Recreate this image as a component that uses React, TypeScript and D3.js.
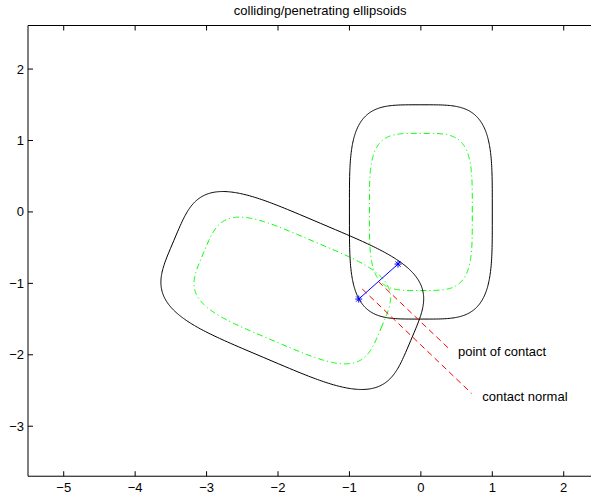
import React from "react";
import * as d3 from "d3";

// ---- data ----
const xTicks = [-5, -4, -3, -2, -1, 0, 1, 2];
const yTicks = [-3, -2, -1, 0, 1, 2];
const xLim = [-5.5, 2.68];
const yLim = [-3.7, 2.61];

// superellipses: centre x, centre y, half-width, half-height, rotation (deg), exponent
const outerCx = [0, -1.8];
const outerCy = [0, -1.1];
const outerA = [1.0, 1.8];
const outerB = [1.5, 1.02];
const innerA = [0.72, 1.35];
const innerB = [1.1, 0.75];
const rotDeg = [0, -23];
const exponent = [4, 4];

// contact points (blue *)
const contactX = [-0.32, -0.87];
const contactY = [-0.73, -1.22];

// red dashed normals: [x0, y0, x1, y1]
const normalLines = [
  [-0.595, -0.975, 0.41, -1.93],
  [-0.82, -1.08, 0.71, -2.54],
];
const labelTexts = ["point of contact", "contact normal"];
const labelX = [0.52, 0.86];
const labelY = [-2.02, -2.65];

const title = "colliding/penetrating ellipsoids";

const W = 591;
const H = 496;
const left = 28;
const top = 25.5;
const unit = 71.43;
const right = left + (xLim[1] - xLim[0]) * unit;
const bottom = top + (yLim[1] - yLim[0]) * unit;

const font = "'Liberation Sans', Arial, Helvetica, sans-serif";

function superellipse(cx: number, cy: number, a: number, b: number, deg: number, n: number): [number, number][] {
  const phi = (deg * Math.PI) / 180;
  const pts: [number, number][] = [];
  const N = 400;
  for (let i = 0; i <= N; i++) {
    const t = (i / N) * 2 * Math.PI;
    const c = Math.cos(t), s = Math.sin(t);
    const bx = a * Math.sign(c) * Math.pow(Math.abs(c), 2 / n);
    const by = b * Math.sign(s) * Math.pow(Math.abs(s), 2 / n);
    pts.push([cx + bx * Math.cos(phi) - by * Math.sin(phi), cy + bx * Math.sin(phi) + by * Math.cos(phi)]);
  }
  return pts;
}

export default function App() {
  const x = d3.scaleLinear().domain(xLim).range([left, right]);
  const y = d3.scaleLinear().domain(yLim).range([bottom, top]);
  const line = d3.line<[number, number]>().x((d) => x(d[0])).y((d) => y(d[1]));
  const tick = 5;

  return (
    <svg width={W} height={H} style={{ position: "absolute", left: 0, top: 0, background: "#fff" }}>
      <defs>
        <clipPath id="plot">
          <rect x={left} y={top} width={right - left} height={bottom - top} />
        </clipPath>
      </defs>
      <rect x={0} y={0} width={W} height={H} fill="#fff" />
      <g clipPath="url(#plot)">
        {outerCx.map((_, i) => (
          <path
            key={"in" + i}
            d={line(superellipse(outerCx[i], outerCy[i], innerA[i], innerB[i], rotDeg[i], exponent[i])) || ""}
            fill="none"
            stroke="#00ff00"
            strokeWidth={1}
            strokeDasharray="6,3,1.2,3"
          />
        ))}
        {outerCx.map((_, i) => (
          <path
            key={"out" + i}
            d={line(superellipse(outerCx[i], outerCy[i], outerA[i], outerB[i], rotDeg[i], exponent[i])) || ""}
            fill="none"
            stroke="#000"
            strokeWidth={1}
          />
        ))}
        {normalLines.map((l, i) => (
          <line
            key={"n" + i}
            x1={x(l[0])}
            y1={y(l[1])}
            x2={x(l[2])}
            y2={y(l[3])}
            stroke="#ff0000"
            strokeWidth={1}
            strokeDasharray="6,4"
          />
        ))}
        <line
          x1={x(contactX[0])}
          y1={y(contactY[0])}
          x2={x(contactX[1])}
          y2={y(contactY[1])}
          stroke="#0000ff"
          strokeWidth={1}
        />
        {contactX.map((cx, i) => {
          const px = x(cx), py = y(contactY[i]);
          const r = 3.5, d = 2.6;
          return (
            <g key={"m" + i} stroke="#0000ff" strokeWidth={1}>
              <line x1={px - r} y1={py} x2={px + r} y2={py} />
              <line x1={px} y1={py - r} x2={px} y2={py + r} />
              <line x1={px - d} y1={py - d} x2={px + d} y2={py + d} />
              <line x1={px - d} y1={py + d} x2={px + d} y2={py - d} />
            </g>
          );
        })}
        {labelTexts.map((t, i) => (
          <text key={"l" + i} x={x(labelX[i])} y={y(labelY[i])} fontFamily={font} fontSize={13} fill="#000">
            {t}
          </text>
        ))}
      </g>
      {/* axes box */}
      <g stroke="#000" strokeWidth={1} fill="none">
        <line x1={left} y1={bottom} x2={right} y2={bottom} />
        <line x1={left} y1={top} x2={right} y2={top} />
        <line x1={left} y1={top} x2={left} y2={bottom} />
        <line x1={right} y1={top} x2={right} y2={bottom} />
        {xTicks.map((t) => (
          <g key={"xt" + t}>
            <line x1={x(t)} y1={bottom} x2={x(t)} y2={bottom - tick} />
            <line x1={x(t)} y1={top} x2={x(t)} y2={top + tick} />
          </g>
        ))}
        {yTicks.map((t) => (
          <g key={"yt" + t}>
            <line x1={left} y1={y(t)} x2={left + tick} y2={y(t)} />
            <line x1={right} y1={y(t)} x2={right - tick} y2={y(t)} />
          </g>
        ))}
      </g>
      {xTicks.map((t) => (
        <text key={"xl" + t} x={x(t)} y={bottom + 16} textAnchor="middle" fontFamily={font} fontSize={13} fill="#000">
          {t < 0 ? "\u2212" + Math.abs(t) : String(t)}
        </text>
      ))}
      {yTicks.map((t) => (
        <text key={"yl" + t} x={left - 4} y={y(t)} dy="0.35em" textAnchor="end" fontFamily={font} fontSize={13} fill="#000">
          {t < 0 ? "\u2212" + Math.abs(t) : String(t)}
        </text>
      ))}
      <text x={(left + right) / 2} y={15} textAnchor="middle" fontFamily={font} fontSize={13} fill="#000">
        {title}
      </text>
    </svg>
  );
}
